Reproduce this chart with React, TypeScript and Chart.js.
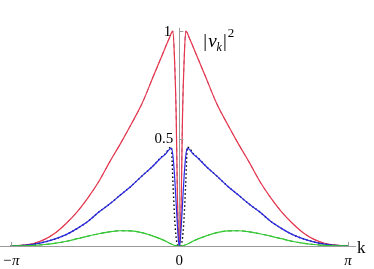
import { useEffect, useRef } from "react";
import { Chart, registerables } from "chart.js";
Chart.register(...registerables);

const kValues = [
  -3.1416, -2.9, -2.7, -2.5, -2.3, -2.1, -1.9, -1.7, -1.5, -1.3, -1.1, -0.9, -0.7, -0.5, -0.35, -0.25, -0.19, -0.15, -0.12, -0.09, -0.06, -0.035, -0.015,
  0,
  0.015, 0.035, 0.06, 0.09, 0.12, 0.15, 0.19, 0.25, 0.35, 0.5, 0.7, 0.9, 1.1, 1.3, 1.5, 1.7, 1.9, 2.1, 2.3, 2.5, 2.7, 2.9, 3.1416,
];

const redValues = [
  0, 0.004, 0.013, 0.032, 0.063, 0.107, 0.16, 0.225, 0.3, 0.39, 0.475, 0.565, 0.66, 0.78, 0.87, 0.93, 0.965, 0.99, 1.0, 0.87, 0.62, 0.22, 0.05,
  0,
  0.05, 0.22, 0.62, 0.87, 1.0, 0.99, 0.965, 0.93, 0.87, 0.78, 0.66, 0.565, 0.475, 0.39, 0.3, 0.225, 0.16, 0.107, 0.063, 0.032, 0.013, 0.004, 0,
];

const blueValues = [
  0, 0.003, 0.009, 0.019, 0.034, 0.054, 0.082, 0.115, 0.158, 0.195, 0.237, 0.278, 0.325, 0.37, 0.408, 0.43, 0.448, 0.455, 0.42, 0.33, 0.2, 0.09, 0.02,
  0,
  0.02, 0.09, 0.2, 0.33, 0.42, 0.455, 0.448, 0.43, 0.408, 0.37, 0.325, 0.278, 0.237, 0.195, 0.158, 0.115, 0.082, 0.054, 0.034, 0.019, 0.009, 0.003, 0,
];

const blueDottedValues = [
  0, 0.003, 0.009, 0.019, 0.034, 0.054, 0.082, 0.115, 0.158, 0.195, 0.237, 0.278, 0.325, 0.37, 0.41, 0.432, 0.455, 0.46, 0.3, 0.14, 0.04, 0.005, 0,
  0,
  0, 0.005, 0.04, 0.14, 0.3, 0.46, 0.455, 0.432, 0.41, 0.37, 0.325, 0.278, 0.237, 0.195, 0.158, 0.115, 0.082, 0.054, 0.034, 0.019, 0.009, 0.003, 0,
];

const greenValues = [
  0, 0.001, 0.003, 0.007, 0.013, 0.022, 0.034, 0.046, 0.057, 0.066, 0.071, 0.07, 0.062, 0.047, 0.033, 0.022, 0.014, 0.009, 0.006, 0.003, 0.001, 0, 0,
  0,
  0, 0, 0.001, 0.003, 0.006, 0.009, 0.014, 0.022, 0.033, 0.047, 0.062, 0.07, 0.071, 0.066, 0.057, 0.046, 0.034, 0.022, 0.013, 0.007, 0.003, 0.001, 0,
];

const xTickValues = [-Math.PI, 0, Math.PI];
const xTickLabels = ["\u2212\u03c0", "0", "\u03c0"];
const yTickValues = [0.5, 1];
const yTickLabels = ["0.5", "1"];

const AXIS_COLOR = "#9a9a9a";
const SERIF = '"Liberation Serif", "DejaVu Serif", serif';

function pts(vals: number[]) {
  return kValues.map((k, i) => ({ x: k, y: vals[i] }));
}

const overlayPlugin = {
  id: "overlayPlugin",
  afterDraw(chart: any) {
    const ctx = chart.ctx as CanvasRenderingContext2D;
    const xs = chart.scales.x;
    const ys = chart.scales.y;
    const x0 = xs.getPixelForValue(0);
    const y0 = ys.getPixelForValue(0);
    ctx.save();
    ctx.strokeStyle = AXIS_COLOR;
    ctx.lineWidth = 1;
    ctx.beginPath();
    for (const v of xTickValues) {
      if (v === 0) continue;
      const px = Math.round(xs.getPixelForValue(v)) + 0.5;
      ctx.moveTo(px, y0);
      ctx.lineTo(px, y0 - 4);
    }
    for (const v of yTickValues) {
      const py = Math.round(ys.getPixelForValue(v)) + 0.5;
      ctx.moveTo(x0, py);
      ctx.lineTo(x0 + 4, py);
    }
    ctx.stroke();

    ctx.fillStyle = "#000";

    // x tick labels
    ctx.textAlign = "center";
    ctx.textBaseline = "middle";
    xTickValues.forEach((v, i) => {
      ctx.font = `${v === 0 ? "" : "italic "}15px ${SERIF}`;
      ctx.fillText(xTickLabels[i], xs.getPixelForValue(v), y0 + 15);
    });

    // y tick labels
    ctx.textAlign = "right";
    yTickValues.forEach((v, i) => {
      ctx.font = `15px ${SERIF}`;
      ctx.fillText(yTickLabels[i], x0 - (v === 1 ? 8 : 6), ys.getPixelForValue(v) + 1);
    });

    ctx.textAlign = "left";
    ctx.textBaseline = "alphabetic";
    ctx.font = `17px ${SERIF}`;
    ctx.fillText("k", xs.right + 2, y0 + 7);

    // |v_k|^2
    let x = x0 + 24;
    const base = 47;
    ctx.font = `19px ${SERIF}`;
    ctx.fillText("|", x, base);
    x += ctx.measureText("|").width + 1;
    ctx.font = `italic 19px ${SERIF}`;
    ctx.fillText("v", x, base);
    x += ctx.measureText("v").width;
    ctx.font = `italic 12px ${SERIF}`;
    ctx.fillText("k", x, base + 4);
    x += ctx.measureText("k").width + 1;
    ctx.font = `19px ${SERIF}`;
    ctx.fillText("|", x, base);
    x += ctx.measureText("|").width + 1;
    ctx.font = `13px ${SERIF}`;
    ctx.fillText("2", x, base - 10);
    ctx.restore();
  },
};

export default function App() {
  const ref = useRef<HTMLCanvasElement | null>(null);
  useEffect(() => {
    if (!ref.current) return;
    const lw = 1.2;
    const chart = new Chart(ref.current, {
      type: "line",
      data: {
        datasets: [
          { data: pts(greenValues), borderColor: "#33cc33", borderWidth: lw },
          { data: pts(greenValues), borderColor: "#1f7a1f", borderWidth: 1, borderDash: [4, 3] },
          { data: pts(blueValues), borderColor: "#2a2ae6", borderWidth: lw },
          { data: pts(blueDottedValues), borderColor: "#000000", borderWidth: 1.4, borderDash: [1.5, 2.5] },
          { data: pts(redValues), borderColor: "#e8364c", borderWidth: lw },
          { data: pts(redValues), borderColor: "rgba(110,40,110,0.7)", borderWidth: 1, borderDash: [4, 4] },
        ],
      },
      options: {
        animation: false,
        responsive: false,
        maintainAspectRatio: false,
        parsing: false as any,
        elements: { point: { radius: 0 }, line: { cubicInterpolationMode: "monotone" } },
        layout: { padding: { left: 0, right: 19, top: 28, bottom: 23 } },
        plugins: { legend: { display: false }, tooltip: { enabled: false } },
        scales: {
          x: {
            type: "linear",
            min: -3.341,
            max: 3.272,
            position: { y: 0 } as any,
            grid: { display: false },
            border: { display: true, color: AXIS_COLOR, width: 1 },
            afterBuildTicks: (s: any) => {
              s.ticks = xTickValues.map((v) => ({ value: v }));
            },
            ticks: { display: false },
          },
          y: {
            type: "linear",
            min: 0,
            max: 1.014,
            position: { x: 0 } as any,
            grid: { display: false },
            border: { display: true, color: AXIS_COLOR, width: 1 },
            afterBuildTicks: (s: any) => {
              s.ticks = yTickValues.map((v) => ({ value: v }));
            },
            ticks: { display: false },
          },
        },
      },
      plugins: [overlayPlugin],
    } as any);
    return () => chart.destroy();
  }, []);
  return (
    <div style={{ position: "fixed", left: 0, top: 0, width: 374, height: 269, background: "#fff" }}>
      <canvas ref={ref} width={374} height={269} style={{ display: "block" }} />
    </div>
  );
}
